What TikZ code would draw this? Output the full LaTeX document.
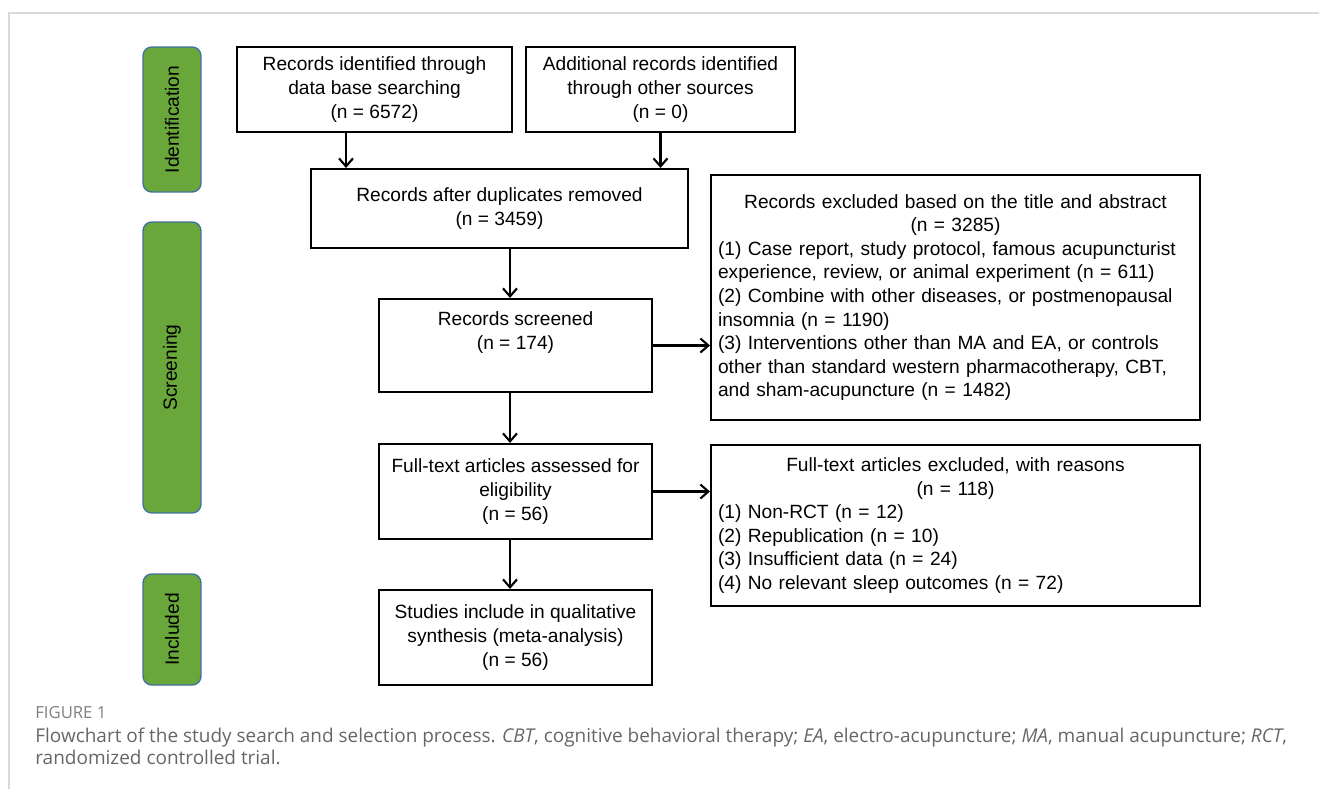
\documentclass[tikz,border=0pt]{standalone}
\usepackage{fontspec}
\setmainfont{Liberation Sans}
\newfontfamily\capfont{Open Sans}
\usetikzlibrary{arrows.meta,positioning,calc}
\definecolor{stage}{HTML}{6AA73B}
\definecolor{stageline}{HTML}{41719C}
\definecolor{framegray}{HTML}{D9D9D9}
\definecolor{capgray}{HTML}{666666}

\begin{document}
\begin{tikzpicture}[x=0.02cm,y=-0.02cm,
  w/.style={draw=black,line width=1.2pt,fill=white,align=center,inner sep=0pt,font=\fontsize{10.9}{13.4}\selectfont,minimum width=5.46cm,minimum height=1.9cm},
  ex/.style={w,align=left,text width=9.5cm,inner xsep=0.14cm,minimum width=9.78cm},
  g/.style={draw=stageline,line width=0.8pt,fill=stage,rounded corners=5pt,rotate=90,inner sep=0pt,minimum height=1.16cm,font=\fontsize{10.9}{13.4}\selectfont},
  ar/.style={-{Straight Barb[length=1.6mm,width=2.8mm]},line width=1.2pt}]
  \useasboundingbox (0,0) rectangle (1319,789);
  % frame
  \draw[framegray,line width=1pt] (9,789) -- (9,13) -- (1319,13);
  % stages
  \node[g,minimum width=2.9cm] (ident) at (172,119.5) {Identification};
  \node[g,minimum width=5.82cm] (screen) at (172,367.5) {Screening};
  \node[g,minimum width=2.22cm] (incl) at (172,629.5) {Included};
  % main flow
  \node[w,minimum width=5.5cm,minimum height=1.7cm] (db) at (374.5,89.5) {Records identified through\\data base searching\\(n = 6572)};
  \node[w,minimum width=5.38cm,minimum height=1.7cm] (other) at (660.5,89.5) {Additional records identified\\through other sources\\(n = 0)};
  \node[w,minimum width=7.54cm,minimum height=1.58cm] (dup) at (499.5,208.5) {Records after duplicates removed\\(n = 3459)};
  \node[w,minimum height=1.86cm,text depth=0.6cm] (scr) at (515.5,345.5) {Records screened\\(n = 174)};
  \node[w] (full) at (515.5,491.5) {Full-text articles assessed for\\eligibility\\(n = 56)};
  \node[w] (incs) at (515.5,637.5) {Studies include in qualitative\\synthesis (meta-analysis)\\(n = 56)};
  % exclusions
  \node[ex,minimum height=4.9cm] (exta) at (955.5,297.5) {\makebox[\linewidth]{Records excluded based on the title and abstract}\\
    \makebox[\linewidth]{(n = 3285)}\\
    (1) Case report, study protocol, famous acupuncturist\\
    experience, review, or animal experiment (n = 611)\\
    (2) Combine with other diseases, or postmenopausal\\
    insomnia (n = 1190)\\
    (3) Interventions other than MA and EA, or controls\\
    other than standard western pharmacotherapy, CBT,\\
    and sham-acupuncture (n = 1482)};
  \node[ex,minimum height=3.22cm] (exft) at (955.5,525.5) {\makebox[\linewidth]{Full-text articles excluded, with reasons}\\
    \makebox[\linewidth]{(n = 118)}\\
    (1) Non-RCT (n = 12)\\
    (2) Republication (n = 10)\\
    (3) Insufficient data (n = 24)\\
    (4) No relevant sleep outcomes (n = 72)};
  % arrows
  \draw[ar] ([xshift=-0.57cm]db.south) -- ([xshift=-0.57cm]db.south |- dup.north);
  \draw[ar] (other.south) -- (other.south |- dup.north);
  \draw[ar] ([xshift=0.21cm]dup.south) -- ([xshift=0.21cm]dup.south |- scr.north);
  \draw[ar] (scr.east) -- (scr.east -| exta.west);
  \draw[ar] ([xshift=-0.11cm]scr.south) -- ([xshift=-0.11cm]scr.south |- full.north);
  \draw[ar] (full.east) -- (full.east -| exft.west);
  \draw[ar] ([xshift=-0.11cm]full.south) -- ([xshift=-0.11cm]full.south |- incs.north);
  % caption
  \node[anchor=base west,font=\capfont\fontsize{9.5}{11}\selectfont,text=gray,inner sep=0pt] (fig) at (35,718) {FIGURE 1};
  \node[anchor=north west,align=left,font=\capfont\fontsize{10.8}{12.2}\selectfont,text=capgray,inner sep=0pt] (cap) at (35,728) {Flowchart of the study search and selection process. \textit{CBT}, cognitive behavioral therapy; \textit{EA}, electro-acupuncture; \textit{MA}, manual acupuncture; \textit{RCT},\\randomized controlled trial.};
\end{tikzpicture}
\end{document}
